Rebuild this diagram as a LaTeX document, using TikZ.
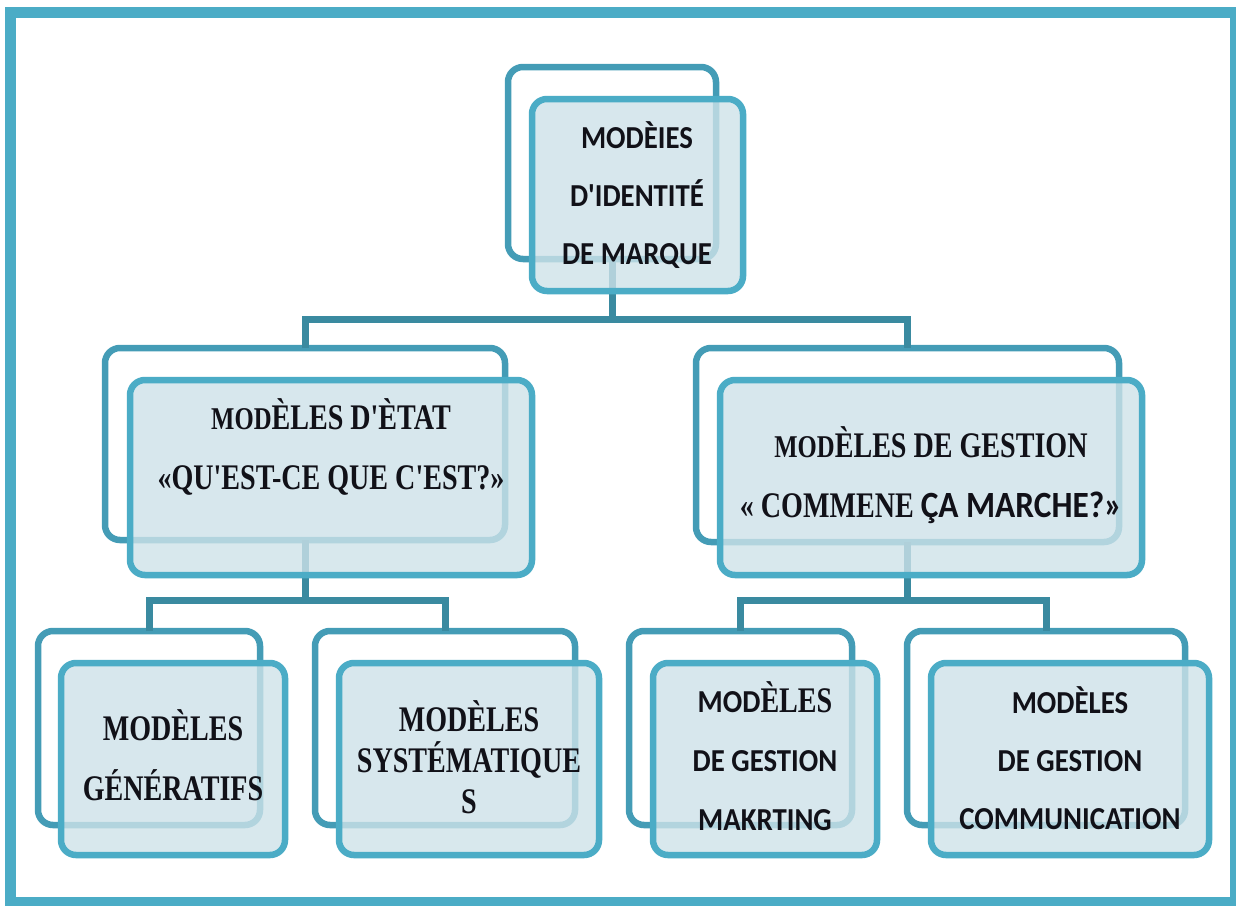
\documentclass[tikz,border=0pt]{standalone}
\usepackage{fontspec}
\usepackage{graphicx}
\setmainfont{Liberation Serif}
\newfontfamily\calfont[FakeStretch=0.9]{Carlito}
\newfontfamily\condfont[FakeStretch=0.78]{Liberation Serif}

\definecolor{frameblue}{HTML}{4BACC6}
\definecolor{backline}{HTML}{449CB6}
\definecolor{frontline}{HTML}{4BACC6}
\definecolor{frontfill}{HTML}{CEE2E9}
\definecolor{linkblue}{HTML}{3A8AA0}
\definecolor{inkcol}{HTML}{111118}

% slightly smaller "MOD" used in the serif titles
\newcommand\smallmod{\scalebox{0.88}{MOD}}

\tikzset{
  backbox/.style={draw=backline, line width=6.5pt, rounded corners=15pt,
    fill=white, inner sep=0pt, outer sep=0pt},
  frontbox/.style={draw=frontline, line width=6.5pt, rounded corners=15pt,
    fill=frontfill, fill opacity=0.8, inner sep=0pt, outer sep=0pt},
  link/.style={draw=linkblue, line width=7pt},
  sanstext/.style={align=center, inner sep=0pt, text=inkcol,
    font=\calfont\bfseries\fontsize{32}{58}\selectfont},
  seriftext/.style={align=center, inner sep=0pt, text=inkcol,
    font=\condfont\bfseries\fontsize{36}{60}\selectfont},
}

\begin{document}
\begin{tikzpicture}[x=1pt, y=-1pt]
\useasboundingbox (0,0) rectangle (1236,905);

% outer frame
\draw[draw=frameblue, line width=11pt] (10.5,12.5) rectangle (1235.5,902.5);

% back boxes
\node[backbox, minimum width=208, minimum height=192] (tb)  at (612,163) {};
\node[backbox, minimum width=400, minimum height=192] (lb)  at (305,444) {};
\node[backbox, minimum width=423, minimum height=194] (rb)  at (907.5,445) {};
\node[backbox, minimum width=222, minimum height=194] (b1b) at (149,728) {};
\node[backbox, minimum width=260, minimum height=194] (b2b) at (445,728) {};
\node[backbox, minimum width=223, minimum height=194] (b3b) at (740.5,728) {};
\node[backbox, minimum width=278, minimum height=194] (b4b) at (1046,728) {};

% junctions of the tree
\coordinate (j0) at (612,319);
\coordinate (j1) at (305,600);
\coordinate (j2) at (907.5,600);

% connectors
\draw[link] (tb.south) -- (j0);
\draw[link] (lb.north) |- (j0) -| (rb.north);
\draw[link] (lb.south) -- (j1);
\draw[link] (b1b.north) |- (j1) -| (b2b.north);
\draw[link] (rb.south) -- (j2);
\draw[link] (b3b.north) |- (j2) -| (b4b.north);

% front boxes
\node[frontbox, minimum width=211, minimum height=192] (tf)  at (637.5,195) {};
\node[frontbox, minimum width=402, minimum height=195] (lf)  at (331,477.5) {};
\node[frontbox, minimum width=422, minimum height=195] (rf)  at (931,477.5) {};
\node[frontbox, minimum width=224, minimum height=192] (b1f) at (173,759) {};
\node[frontbox, minimum width=260, minimum height=192] (b2f) at (469,759) {};
\node[frontbox, minimum width=224, minimum height=192] (b3f) at (765,759) {};
\node[frontbox, minimum width=278, minimum height=192] (b4f) at (1070,759) {};

% labels
\node[sanstext] (t0) at (637,195) {MODÈIES\\D'IDENTITÉ\\DE MARQUE};
\node[seriftext] (t1) at (331,447) {\smallmod ÈLES D'ÈTAT\\«QU'EST-CE QUE C'EST?»};
\node[seriftext] (t2) at (931,475) {\smallmod ÈLES DE GESTION\\« COMMENE {\calfont\bfseries\fontsize{37}{60}\selectfont ÇA MARCHE?»}};
\node[seriftext] (t3) at (173,755) {MODÈLES\\GÉNÉRATIFS};
\node[seriftext, font=\condfont\bfseries\fontsize{36}{41}\selectfont] (t4) at (469,757) {MODÈLES\\SYSTÉMATIQUE\\S};
\node[sanstext, font=\calfont\bfseries\fontsize{32}{59}\selectfont] (t5) at (765,756)
  {MOD{\condfont\bfseries\fontsize{36}{59}\selectfont ÈLES}\\DE GESTION\\MAKRTING};
\node[sanstext] (t6) at (1070,758) {MODÈLES\\DE GESTION\\COMMUNICATION};
\end{tikzpicture}
\end{document}
